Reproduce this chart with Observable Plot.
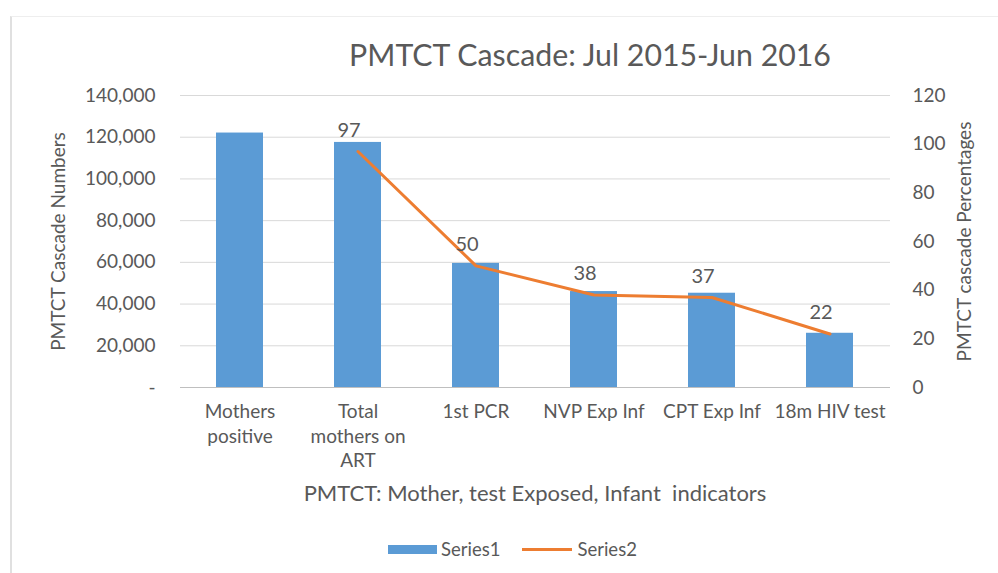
<!DOCTYPE html>
<html>
<head>
<meta charset="utf-8">
<script src="https://cdn.jsdelivr.net/npm/d3@7"></script>
<script src="https://cdn.jsdelivr.net/npm/@observablehq/plot@0.6"></script>
<style>
  html, body { margin: 0; padding: 0; background: #fff; }
  #wrap { position: relative; width: 998px; height: 573px; overflow: hidden; font-family: Lato, "Open Sans", sans-serif; color: #595959; }
  #frame { position: absolute; left: 10px; top: 16px; width: 990px; height: 570px; border-left: 2px solid #e0e0e0; border-top: 1px solid #eeeeee; box-sizing: border-box; }
  #chart { position: absolute; left: 0; top: 0; }
  .ov { position: absolute; white-space: nowrap; }
  #title { font-size: 30.3px; left: 590px; top: 54px; transform: translate(-50%, -50%); }
  #xtitle { font-size: 22px; left: 535px; top: 492px; transform: translate(-50%, -50%); }
  #legend { left: 388px; top: 549px; transform: translateY(-50%); font-size: 18.5px; display: flex; align-items: center; }
  .sw1 { display: inline-block; width: 49px; height: 9px; background: #5B9BD5; margin-right: 4px; }
  .sw2 { display: inline-block; width: 50px; height: 3px; background: #ED7D31; margin-right: 5px; margin-left: 22px; }
</style>
</head>
<body>
<div id="wrap">
  <div id="frame"></div>
  <div id="chart"></div>
  <div id="title" class="ov">PMTCT Cascade: Jul 2015-Jun 2016</div>
  <div id="xtitle" class="ov">PMTCT: Mother, test Exposed, Infant&nbsp; indicators</div>
  <div id="legend" class="ov"><span class="sw1"></span><span>Series1</span><span class="sw2"></span><span>Series2</span></div>
</div>
<script>
const categories = ["Mothers positive", "Total mothers on ART", "1st PCR", "NVP Exp Inf", "CPT Exp Inf", "18m HIV test"];
const tickLabels = ["Mothers\npositive", "Total\nmothers on\nART", "1st PCR", "NVP Exp Inf", "CPT Exp Inf", "18m HIV test"];
const series1 = [122000, 117500, 59500, 46000, 45200, 26000];
const series2 = [null, 97, 50, 38, 37, 22];
const leftTicks = [0, 20000, 40000, 60000, 80000, 100000, 120000, 140000];
const rightTicks = [0, 20, 40, 60, 80, 100, 120];

const k = 140000 / 120;
const data = categories.map((c, i) => ({cat: c, v1: series1[i], v2: series2[i]}));
const lineData = data.filter(d => d.v2 != null);
const fmt = d3.format(",");

const chart = Plot.plot({
  width: 998,
  height: 573,
  marginTop: 95,
  marginBottom: 186,
  marginLeft: 180,
  marginRight: 108,
  style: {fontFamily: "Lato, 'Open Sans', sans-serif", color: "#595959", background: "transparent"},
  x: {type: "band", domain: categories, paddingInner: 0.6, paddingOuter: 0.3},
  y: {domain: [0, 140000]},
  marks: [
    Plot.gridY(leftTicks, {stroke: "#d9d9d9", strokeOpacity: 1}),
    Plot.ruleY([0], {stroke: "#bfbfbf"}),
    Plot.barY(data, {x: "cat", y: "v1", fill: "#5B9BD5"}),
    Plot.lineY(lineData, {x: "cat", y: d => d.v2 * k, stroke: "#ED7D31", strokeWidth: 3}),
    Plot.text(lineData, {x: "cat", y: d => d.v2 * k, text: d => String(d.v2), dy: -21, dx: -9, fill: "#595959", fontSize: 20}),
    Plot.axisY(leftTicks, {anchor: "left", tickSize: 0, tickPadding: 25, fontSize: 19,
      tickFormat: d => d === 0 ? "-" : fmt(d),
      label: "PMTCT Cascade Numbers", labelAnchor: "center", labelArrow: "none", labelOffset: 129}),
    Plot.axisY(rightTicks.map(v => v * k), {anchor: "right", tickSize: 0, tickPadding: 22, fontSize: 19,
      tickFormat: d => String(Math.round(d / k)),
      label: "PMTCT cascade Percentages", labelAnchor: "center", labelArrow: "none", labelOffset: 80}),
    Plot.axisX({tickSize: 0, tickPadding: 13, fontSize: 19, lineHeight: 1.3,
      tickFormat: d => tickLabels[categories.indexOf(d)], label: null})
  ]
});
document.getElementById("chart").appendChild(chart);
</script>
</body>
</html>
